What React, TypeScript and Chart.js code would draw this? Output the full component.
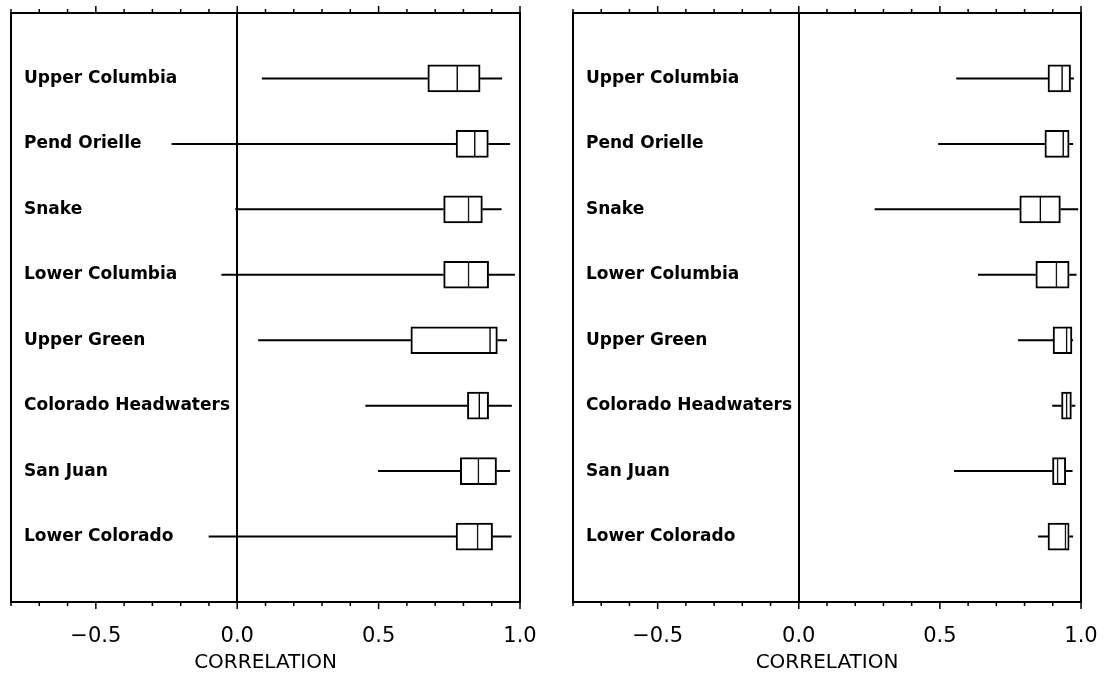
import React, { useEffect, useRef } from 'react';
import { Chart, registerables } from 'chart.js';

Chart.register(...registerables);

// ---- data -------------------------------------------------------------
const categories = [
  'Upper Columbia',
  'Pend Orielle',
  'Snake',
  'Lower Columbia',
  'Upper Green',
  'Colorado Headwaters',
  'San Juan',
  'Lower Colorado',
];

// left panel
const leftMin = [0.087, -0.232, -0.007, -0.056, 0.074, 0.453, 0.498, -0.101];
const leftQ1 = [0.674, 0.774, 0.73, 0.73, 0.614, 0.814, 0.789, 0.774];
const leftMed = [0.778, 0.84, 0.818, 0.818, 0.894, 0.856, 0.853, 0.85];
const leftQ3 = [0.859, 0.888, 0.867, 0.889, 0.92, 0.889, 0.917, 0.903];
const leftMax = [0.937, 0.965, 0.935, 0.982, 0.954, 0.971, 0.965, 0.97];

// right panel
const rightMin = [0.558, 0.494, 0.269, 0.635, 0.777, 0.898, 0.55, 0.848];
const rightQ1 = [0.883, 0.872, 0.783, 0.84, 0.901, 0.931, 0.899, 0.883];
const rightMed = [0.933, 0.937, 0.856, 0.913, 0.949, 0.949, 0.917, 0.945];
const rightQ3 = [0.963, 0.958, 0.927, 0.958, 0.968, 0.966, 0.946, 0.958];
const rightMax = [0.975, 0.972, 0.99, 0.984, 0.972, 0.98, 0.97, 0.972];

const axisMin = -0.8;
const axisMax = 1.0;
const axisTitle = 'CORRELATION';

// ---- helpers ----------------------------------------------------------
function isMajor(v: number) {
  const d = v * 2;
  return Math.abs(d - Math.round(d)) < 1e-6;
}
function fmt(v: number) {
  if (Math.abs(v) < 1e-9) return '0.0';
  return (v < 0 ? '\u2212' : '') + Math.abs(v).toFixed(1);
}

const framePlugin = {
  id: 'frame',
  afterDraw(chart: any) {
    const { ctx, chartArea } = chart;
    const { left, right, top, bottom } = chartArea;
    const x = chart.scales.x;
    ctx.save();
    ctx.strokeStyle = '#000';
    ctx.lineWidth = 2;
    ctx.strokeRect(left, top, right - left, bottom - top);
    ctx.lineWidth = 1.5;
    x.ticks.forEach((t: any) => {
      const px = x.getPixelForValue(t.value);
      const len = isMajor(t.value) ? 7 : 4;
      ctx.beginPath();
      ctx.moveTo(px, bottom);
      ctx.lineTo(px, bottom + len);
      ctx.moveTo(px, top);
      ctx.lineTo(px, top - len);
      ctx.stroke();
    });
    ctx.restore();
  },
};

function buildConfig(
  mins: number[],
  q1s: number[],
  meds: number[],
  q3s: number[],
  maxs: number[],
  padL: number,
  padR: number
): any {
  const lowerBox = categories.map((_, i) => ({ x: [q1s[i], meds[i]], y: i + 1 }));
  const upperBox = categories.map((_, i) => ({ x: [meds[i], q3s[i]], y: i + 1 }));
  const whiskers: any[] = [];
  categories.forEach((_, i) => {
    whiskers.push({ x: mins[i], y: i + 1 });
    whiskers.push({ x: q1s[i], y: i + 1 });
    whiskers.push({ x: null, y: null });
    whiskers.push({ x: q3s[i], y: i + 1 });
    whiskers.push({ x: maxs[i], y: i + 1 });
    whiskers.push({ x: null, y: null });
  });

  return {
    type: 'bar',
    data: {
      datasets: [
        {
          type: 'bar',
          indexAxis: 'y',
          data: lowerBox,
          grouped: false,
          barThickness: 27,
          backgroundColor: '#ffffff',
          borderColor: '#000000',
          borderWidth: { left: 2, right: 1, top: 2, bottom: 2 },
          borderSkipped: false,
        },
        {
          type: 'bar',
          indexAxis: 'y',
          data: upperBox,
          grouped: false,
          barThickness: 27,
          backgroundColor: '#ffffff',
          borderColor: '#000000',
          borderWidth: { left: 1, right: 2, top: 2, bottom: 2 },
          borderSkipped: false,
        },
        {
          type: 'scatter',
          data: whiskers,
          showLine: true,
          spanGaps: false,
          borderColor: '#000000',
          borderWidth: 2,
          pointRadius: 0,
          pointHoverRadius: 0,
        },
      ],
    },
    options: {
      responsive: false,
      animation: false,
      events: [],
      layout: { padding: { left: padL, right: padR, top: 13, bottom: 0 } },
      plugins: { legend: { display: false }, tooltip: { enabled: false } },
      scales: {
        x: {
          type: 'linear',
          position: 'bottom',
          offset: false,
          min: axisMin,
          max: axisMax,
          afterFit: (s: any) => {
            s.height = 71;
            s.paddingLeft = 0;
            s.paddingRight = 0;
          },
          border: { display: false },
          grid: {
            display: true,
            offset: false,
            drawOnChartArea: true,
            drawTicks: false,
            lineWidth: 2,
            color: (c: any) =>
              c.tick && Math.abs(c.tick.value) < 1e-9 ? '#000000' : 'rgba(0,0,0,0)',
          },
          ticks: {
            stepSize: 0.1,
            autoSkip: false,
            maxRotation: 0,
            padding: 22,
            color: '#000000',
            font: { family: 'DejaVu Sans', size: 21 },
            callback: (v: any) => (isMajor(Number(v)) ? fmt(Number(v)) : ''),
          },
          title: {
            display: true,
            text: axisTitle,
            color: '#000000',
            padding: { top: 0, bottom: 0 },
            font: { family: 'DejaVu Sans', size: 20, lineHeight: 1 },
          },
        },
        y: {
          type: 'linear',
          position: 'left',
          offset: false,
          min: 0,
          max: categories.length + 1,
          reverse: true,
          afterFit: (s: any) => {
            s.width = 0;
            s.paddingTop = 0;
            s.paddingBottom = 0;
          },
          border: { display: false },
          grid: { display: false, drawTicks: false, offset: false },
          ticks: {
            stepSize: 1,
            autoSkip: false,
            mirror: true,
            padding: 13,
            color: '#000000',
            font: { family: 'DejaVu Sans', size: 17, weight: 'bold' },
            callback: (v: any) => categories[Number(v) - 1] ?? '',
          },
        },
      },
    },
    plugins: [framePlugin],
  };
}

export default function App() {
  const leftRef = useRef<HTMLCanvasElement | null>(null);
  const rightRef = useRef<HTMLCanvasElement | null>(null);

  useEffect(() => {
    const c1 = new Chart(
      leftRef.current as HTMLCanvasElement,
      buildConfig(leftMin, leftQ1, leftMed, leftQ3, leftMax, 11, 32)
    );
    const c2 = new Chart(
      rightRef.current as HTMLCanvasElement,
      buildConfig(rightMin, rightQ1, rightMed, rightQ3, rightMax, 21, 23)
    );
    return () => {
      c1.destroy();
      c2.destroy();
    };
  }, []);

  return (
    <div
      style={{
        position: 'fixed',
        left: 0,
        top: 0,
        width: 1104,
        height: 673,
        background: '#ffffff',
        overflow: 'hidden',
      }}
    >
      <canvas
        ref={leftRef}
        width={552}
        height={673}
        style={{ position: 'absolute', left: 0, top: 0 }}
      />
      <canvas
        ref={rightRef}
        width={552}
        height={673}
        style={{ position: 'absolute', left: 552, top: 0 }}
      />
    </div>
  );
}
